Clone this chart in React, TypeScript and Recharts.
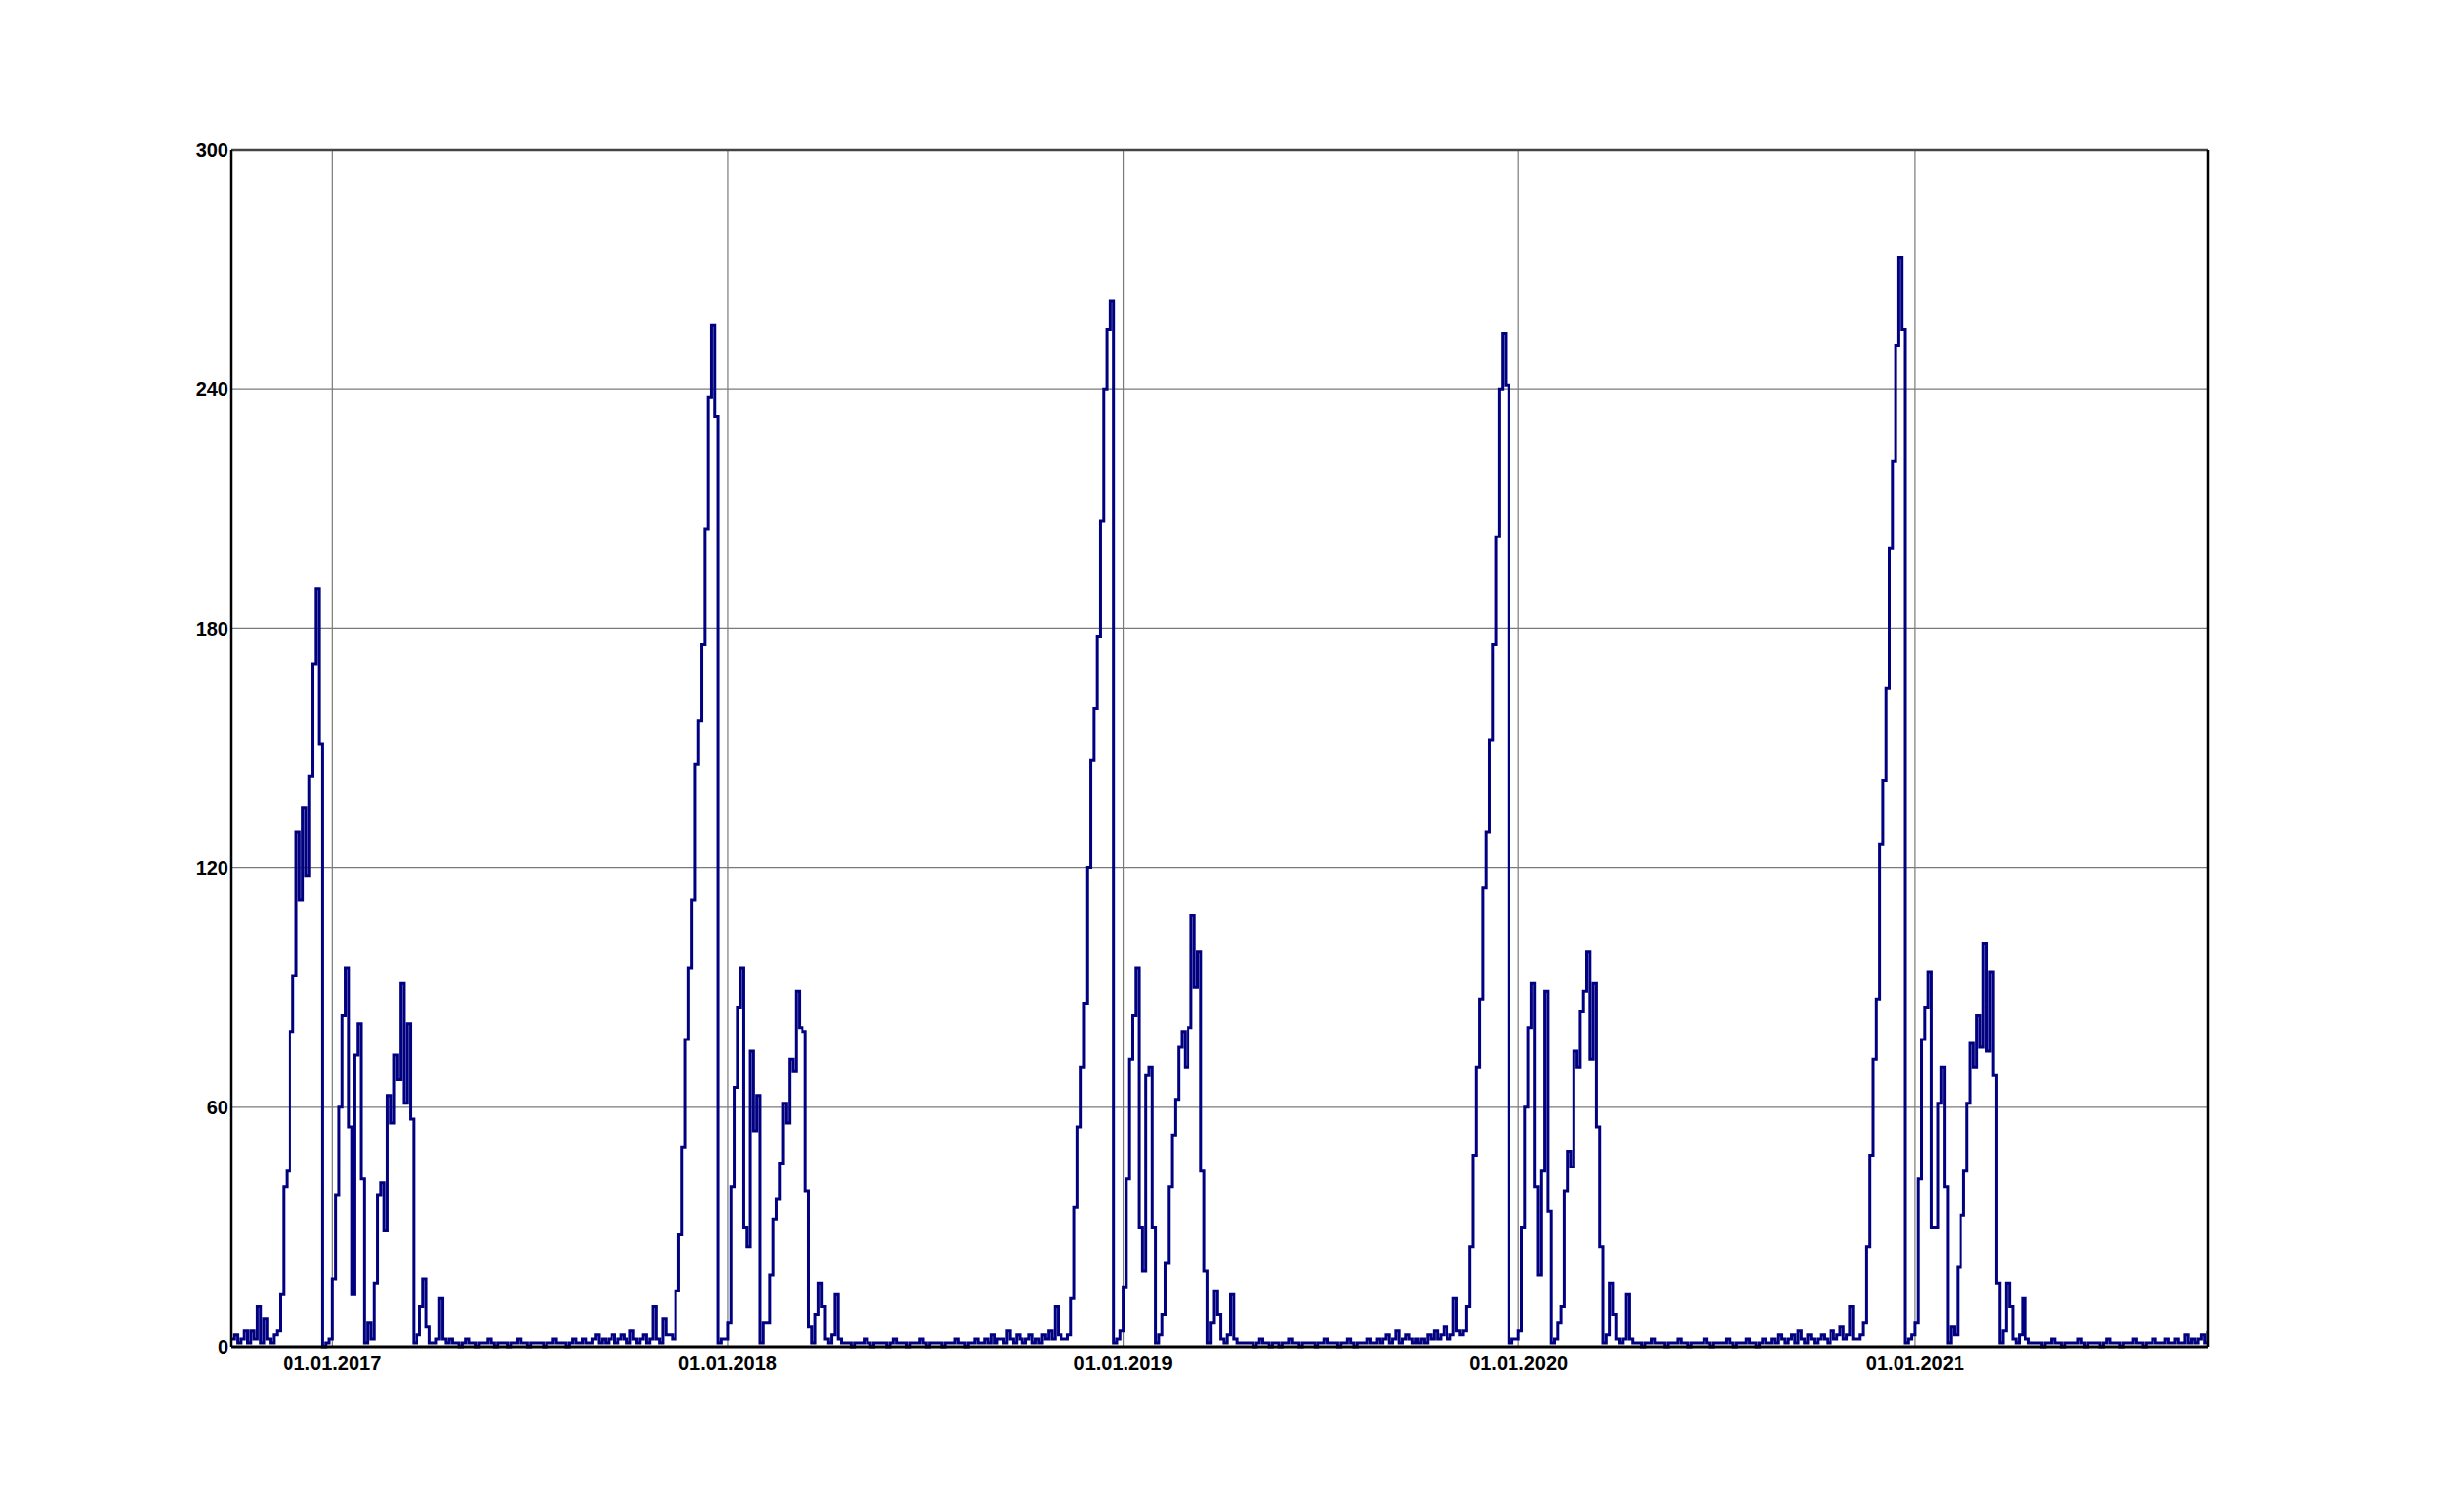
import React from 'react';
import { LineChart, Line, XAxis, YAxis, CartesianGrid, ReferenceLine } from 'recharts';

// one list per season, a value every 3 days from its start date
const seasonStarts = ['2016-09-30', '2017-09-30', '2018-09-30', '2019-09-30', '2020-09-30'];

const season2016 = [
  2, 3, 1, 2, 4, 1, 4, 2, 10, 1, 7, 2, 1, 3, 4,
  13, 40, 44, 79, 93, 129, 112, 135, 118, 143, 171, 190, 151, 0,
  1, 2,
  17, 38, 60, 83, 95, 55, 13, 73, 81, 42, 1,
  6, 2,
  16, 38, 41, 29, 63, 56, 73, 67, 91, 61, 81, 57, 1,
  3, 10, 17, 5, 1, 1, 2, 12, 2, 1, 2,
  1, 1, 0, 1, 2, 1, 1, 0, 1, 1,
  1, 2, 1, 0, 1, 1, 1, 0, 1, 1,
  2, 1, 1, 0, 1, 1, 1, 1, 0, 1,
  1, 2, 1, 1, 1, 0, 1, 2, 1, 1,
  2, 1, 1, 2, 3, 1, 2, 1, 2, 3,
  1, 2, 3, 2,
];

const season2017 = [
  1, 4, 2, 1, 2, 3, 1, 2, 10, 2, 1, 7, 3,
  3, 2, 14, 28, 50, 77, 95, 112, 146, 157, 176, 205, 238, 256, 233, 1,
  2, 2, 6, 40, 65, 85, 95, 30, 25, 74, 54, 63, 1,
  6, 6, 18, 32, 37, 46, 61, 56, 72, 69, 89, 80, 79, 39, 5, 1,
  8, 16, 10, 2, 1, 3, 13, 2, 1, 1,
  1, 0, 1, 1, 1, 2, 1, 0, 1, 1,
  1, 1, 0, 1, 2, 1, 1, 1, 0, 1,
  1, 1, 2, 1, 0, 1, 1, 1, 1, 0,
  1, 1, 1, 2, 1, 1, 0, 1, 1, 2,
  1, 1, 2, 1, 3, 1, 2, 2, 1, 4,
  2, 1, 3, 2,
];

const season2018 = [
  1, 2, 3, 1, 2, 1, 3, 2, 4, 2, 10, 3, 2,
  2, 3, 12, 35, 55, 70, 86, 120, 147, 160, 178, 207, 240, 255, 262, 1,
  2, 4, 15, 42, 72, 83, 95, 30, 19, 68, 70, 30, 1,
  3, 8, 21, 40, 53, 62, 75, 79, 70, 80, 108, 90, 99, 44, 19, 1,
  6, 14, 8, 2, 1, 3, 13, 2, 1, 1,
  1, 1, 1, 0, 1, 2, 1, 1, 0, 1,
  1, 0, 1, 1, 2, 1, 1, 0, 1, 1,
  1, 1, 0, 1, 1, 2, 1, 1, 1, 0,
  1, 1, 2, 1, 0, 1, 1, 1, 2, 1,
  1, 2, 1, 2, 3, 1, 2, 4, 1, 2,
  3, 2, 1, 2,
];

const season2019 = [
  1, 2, 1, 3, 2, 4, 2, 3, 5, 2, 3, 12, 4,
  3, 4, 10, 25, 48, 70, 87, 115, 129, 152, 176, 203, 240, 254, 241, 1,
  2, 2, 4, 30, 60, 80, 91, 40, 18, 44, 89, 34, 1,
  2, 6, 10, 39, 49, 45, 74, 70, 84, 89, 99, 72, 91, 55, 25, 1,
  3, 16, 8, 2, 1, 2, 13, 2, 1, 1,
  1, 0, 1, 1, 2, 1, 1, 1, 0, 1,
  1, 1, 2, 1, 1, 0, 1, 1, 1, 1,
  2, 1, 0, 1, 1, 1, 1, 2, 1, 0,
  1, 1, 1, 2, 1, 1, 0, 1, 2, 1,
  1, 2, 1, 3, 2, 1, 2, 3, 1, 4,
  2, 1, 3, 2,
];

const season2020 = [
  1, 2, 3, 2, 1, 4, 2, 3, 5, 2, 3, 10,
  2, 2, 3, 6, 25, 48, 72, 87, 126, 142, 165, 200, 222, 251, 273, 255, 1,
  2, 3, 6, 42, 77, 85, 94, 30, 30, 61, 70, 40, 1,
  5, 3, 20, 33, 44, 61, 76, 70, 83, 75, 101, 74, 94, 68, 16, 1,
  4, 16, 10, 2, 1, 3, 12, 2, 1, 1,
  1, 1, 0, 1, 1, 2, 1, 1, 0, 1,
  1, 1, 1, 2, 1, 0, 1, 1, 1, 1,
  0, 1, 2, 1, 1, 1, 0, 1, 1, 1,
  2, 1, 1, 0, 1, 1, 2, 1, 1, 1,
  2, 1, 1, 2, 1, 1, 3, 1, 2, 1,
  2, 3, 1, 4,
];

const seasons = [season2016, season2017, season2018, season2019, season2020];

const domainStart = '2016-09-30';
const domainEnd = '2021-09-28';

const tickDates = ['2017-01-01', '2018-01-01', '2019-01-01', '2020-01-01', '2021-01-01'];
const tickLabels = ['01.01.2017', '01.01.2018', '01.01.2019', '01.01.2020', '01.01.2021'];

const leftTicks = [0, 60, 120, 180, 240, 300];
const rightTicks = [0, 52.17, 104.35, 156.52, 208.7, 260.87];
const rightTickLabels = ['0', '52,17', '104,35', '156,52', '208,7', '260,87'];

const DAY = 86400000;
const toTime = (s: string) => Date.parse(s + 'T00:00:00Z');

const data = seasons.flatMap((values, k) =>
  values.map((v, i) => ({ t: toTime(seasonStarts[k]) + i * 3 * DAY, v }))
);

const xTicks = tickDates.map(toTime);

const tickStyle = {
  fill: '#000',
  fontSize: 20,
  fontWeight: 'bold',
  fontFamily: '"Liberation Sans", Arial, sans-serif',
};

export default function App() {
  return (
    <div style={{ width: 2464, height: 1480, background: '#fff' }}>
      <LineChart
        width={2464}
        height={1480}
        data={data}
        margin={{ top: 144, left: 167, right: 130, bottom: 70 }}
      >
        <CartesianGrid stroke="#7a7a7a" strokeWidth={1.2} />
        <XAxis
          dataKey="t"
          type="number"
          domain={[toTime(domainStart), toTime(domainEnd)]}
          allowDataOverflow
          ticks={xTicks}
          interval={0}
          tickFormatter={(t: number) => tickLabels[xTicks.indexOf(t)]}
          tick={tickStyle}
          tickLine={false}
          tickSize={0}
          tickMargin={10}
          height={50}
          axisLine={{ stroke: '#000', strokeWidth: 3 }}
        />
        <YAxis
          domain={[0, 300]}
          ticks={leftTicks}
          interval={0}
          tick={tickStyle}
          tickLine={false}
          tickSize={0}
          tickMargin={3}
          width={60}
          axisLine={{ stroke: '#000', strokeWidth: 2.5 }}
        />
        <YAxis
          yAxisId="right"
          orientation="right"
          domain={[0, 260.87]}
          ticks={rightTicks}
          interval={0}
          tickFormatter={(v: number) => rightTickLabels[rightTicks.indexOf(v)]}
          tick={{ ...tickStyle, textAnchor: 'start' }}
          tickLine={false}
          tickSize={0}
          tickMargin={5}
          width={100}
          axisLine={{ stroke: '#000', strokeWidth: 2.5 }}
        />
        <ReferenceLine y={300} stroke="#444" strokeWidth={2.5} />
        <Line
          dataKey="v"
          type="stepAfter"
          stroke="#000080"
          strokeWidth={3}
          dot={false}
          isAnimationActive={false}
        />
      </LineChart>
    </div>
  );
}
